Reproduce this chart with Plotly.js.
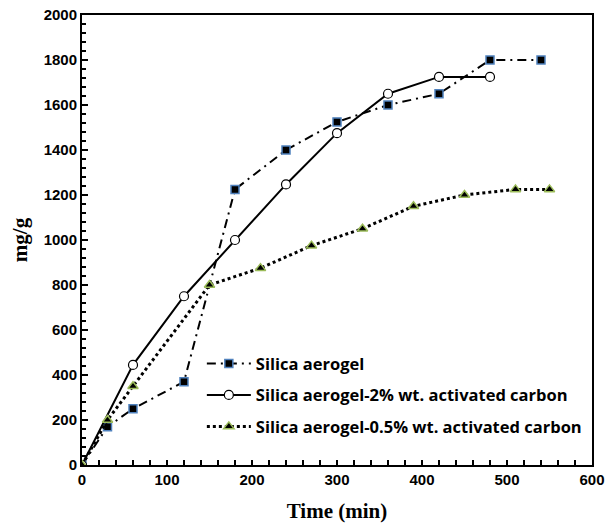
<!DOCTYPE html>
<html><head><meta charset="utf-8">
<script src="https://cdn.plot.ly/plotly-3.0.1.min.js"></script>
<style>html,body{margin:0;padding:0;background:#fff}#chart{width:609px;height:526px}</style>
</head><body><div id="chart"></div>
<script>
const names = ["Silica aerogel", "Silica aerogel-2% wt. activated carbon", "Silica aerogel-0.5% wt. activated carbon"];
const timeA = [0, 30, 60, 120, 180, 240, 300, 360, 420, 480, 540];
const valA  = [0, 170, 250, 370, 1225, 1400, 1525, 1600, 1650, 1800, 1800];
const timeB = [0, 60, 120, 180, 240, 300, 360, 420, 480];
const valB  = [0, 445, 750, 1000, 1247, 1475, 1650, 1725, 1725];
const timeC = [0, 30, 60, 150, 210, 270, 330, 390, 450, 510, 550];
const valC  = [0, 200, 350, 800, 875, 975, 1050, 1150, 1200, 1225, 1225];

const traces = [
  {x: timeA, y: valA, name: names[0], legendgroup: 'a', mode: 'lines+markers',
   line: {color: '#000', width: 2, dash: '9px,5px,2px,5px'},
   marker: {symbol: 'square', size: 8, color: '#000', line: {color: '#4F81BD', width: 1.5}}},
  {x: timeB, y: valB, name: names[1], legendgroup: 'b', mode: 'lines+markers',
   line: {color: '#000', width: 2},
   marker: {symbol: 'circle', size: 9, color: '#fff', line: {color: '#000', width: 1.2}}},
  {x: timeC, y: valC, name: names[2], legendgroup: 'c', mode: 'lines+markers',
   line: {color: '#000', width: 3, dash: 'dot'},
   marker: {symbol: 'triangle-up', size: 9, color: '#000', line: {color: '#9BBB59', width: 1.5}}}
];

const layout = {
  width: 609, height: 526,
  margin: {l: 82, r: 17, t: 15, b: 61},
  paper_bgcolor: '#fff', plot_bgcolor: '#fff',
  showlegend: true,
  legend: {x: 0.235, y: 0.155, xanchor: 'left', yanchor: 'middle', bgcolor: 'rgba(0,0,0,0)',
    font: {family: 'Open Sans, Liberation Sans, sans-serif', size: 16.5, color: '#000', weight: 'bold'},
    traceorder: 'grouped', tracegroupgap: 7, itemwidth: 44},
  xaxis: {range: [0, 600], dtick: 100, tick0: 0, showgrid: false, zeroline: false,
    showline: true, linecolor: '#000', linewidth: 2, mirror: true,
    ticks: 'inside', ticklen: 5, tickwidth: 1.5, tickcolor: '#000',
    minor: {dtick: 20, ticks: 'inside', ticklen: 5, tickwidth: 1.5, tickcolor: '#000'},
    tickfont: {family: 'Liberation Sans Narrow, Liberation Sans, sans-serif', size: 15, color: '#000', weight: 'bold'},
    title: {text: 'Time (min)', font: {family: 'Liberation Serif, serif', size: 21, color: '#000', weight: 'bold'}, standoff: 16}},
  yaxis: {range: [0, 2000], dtick: 200, tick0: 0, showgrid: false, zeroline: false,
    showline: true, linecolor: '#000', linewidth: 2, mirror: true,
    ticks: 'inside', ticklen: 6, tickwidth: 1.5, tickcolor: '#000',
    minor: {dtick: 40, ticks: 'inside', ticklen: 4, tickwidth: 1.5, tickcolor: '#000'},
    tickfont: {family: 'Liberation Sans Narrow, Liberation Sans, sans-serif', size: 15, color: '#000', weight: 'bold'},
    title: {text: 'mg/g', font: {family: 'Liberation Serif, serif', size: 21, color: '#000', weight: 'bold'}, standoff: 10}}
};
Plotly.newPlot('chart', traces, layout, {displayModeBar: false, staticPlot: true});
</script></body></html>
